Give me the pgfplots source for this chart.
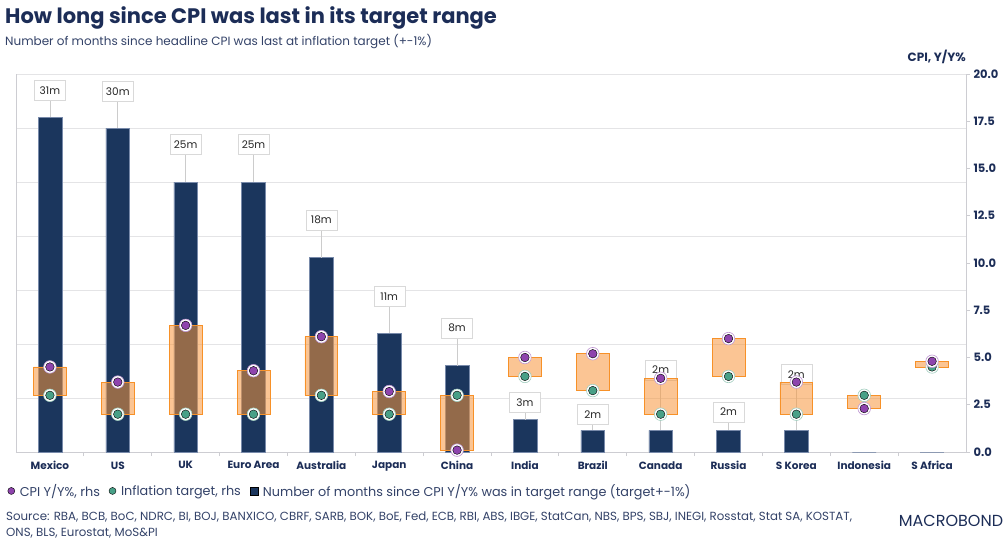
\documentclass[border=0pt]{standalone}
\usepackage{fontspec}
\setmainfont{Poppins}
\usepackage{pgfplots}
\pgfplotsset{compat=1.18}
\usepackage{pgfplotstable}

\definecolor{navy}{RGB}{27,54,93}
\definecolor{baredge}{RGB}{120,138,170}
\definecolor{txt}{RGB}{28,45,87}
\definecolor{gridc}{RGB}{228,228,230}
\definecolor{axc}{RGB}{205,205,210}
\definecolor{orng}{RGB}{247,145,40}
\definecolor{orfill}{RGB}{247,150,60}
\definecolor{purp}{RGB}{142,68,173}
\definecolor{purpl}{RGB}{190,150,210}
\definecolor{grn}{RGB}{72,160,135}
\definecolor{grnl}{RGB}{160,205,190}

\pgfplotstableread{
x months
0 31
1 30
2 25
3 25
4 18
5 11
6 8
7 3
8 2
9 2
10 2
11 2
12 0
13 0
}\months

\pgfplotstableread{
x laby months
0 33.5 31
1 33.4 30
2 28.5 25
3 28.5 25
4 21.5 18
5 14.4 11
6 11.5 8
7 4.6 3
8 3.5 2
9 7.6 2
10 3.7 2
11 7.2 2
}\labels

\pgfplotstableread{
x cpi target
0 4.5 3.0
1 3.7 2.0
2 6.7 2.0
3 4.3 2.0
4 6.1 3.0
5 3.2 2.0
6 0.1 3.0
7 5.0 4.0
8 5.2 3.25
9 3.9 2.0
10 6.0 4.0
11 3.7 2.0
12 2.3 3.0
13 4.8 4.5
}\cpi

\begin{document}
\begin{tikzpicture}
\path[use as bounding box] (0pt,0pt) rectangle (1008pt,542pt);

\node[anchor=base west, inner sep=0, text=txt, font=\fontsize{21}{25}\selectfont\bfseries] at (5pt,518pt) {How long since CPI was last in its target range};
\node[anchor=base west, inner sep=0, text=txt!90, font=\fontsize{12}{14}\selectfont] at (5pt,496pt) {Number of months since headline CPI was last at inflation target (+-1\%)};

% months axis (background, grid, x labels)
\begin{axis}[at={(16pt,90pt)}, anchor=south west, scale only axis,
  width=950pt, height=378pt,
  xmin=-0.5, xmax=13.5, ymin=0, ymax=35,
  xtick={0,...,13},
  xticklabels={Mexico,US,UK,Euro Area,Australia,Japan,China,India,Brazil,Canada,Russia,S Korea,Indonesia,S Africa},
  minor xtick={0.5,1.5,...,12.5},
  ytick={0,5,...,35}, yticklabels={},
  ymajorgrids, major grid style={gridc, line width=0.8pt},
  axis x line*=bottom, axis y line*=left,
  axis line style={axc, line width=0.8pt},
  tick align=outside, major tick length=0pt, minor tick length=4pt,
  tick style={axc, line width=0.8pt},
  /pgf/number format/assume math mode=true,
  xticklabel style={font=\fontsize{10.5}{12}\selectfont\bfseries, text=txt, yshift=-6pt},
  clip=false]
\addplot[ybar, bar width=0.35, fill=navy, draw=baredge, line width=0.5pt] table[x=x,y=months]\months;
\addplot[only marks, mark=none, point meta=\thisrow{months},
  nodes near coords={\pgfmathprintnumber{\pgfplotspointmeta}m},
  nodes near coords style={anchor=center, draw=gray!30, fill=white, text=black!85,
    font=\fontsize{10.5}{12}\selectfont, minimum width=31pt, minimum height=20pt, inner sep=2pt},
  error bars/.cd, y dir=minus, y explicit, error mark=none,
  error bar style={gray!40, line width=0.8pt}]
  table[x=x, y=laby, y error minus expr=\thisrow{laby}-\thisrow{months}]\labels;
\end{axis}

% target range boxes
\begin{axis}[at={(16pt,90pt)}, anchor=south west, scale only axis,
  width=950pt, height=378pt,
  xmin=-0.5, xmax=13.5, ymin=0, ymax=20, hide axis,
  ybar stacked, bar width=0.485]
\addplot[draw=none, fill=none] table[x=x, y expr={min(\thisrow{cpi},\thisrow{target})}]\cpi;
\addplot[fill=orfill, fill opacity=0.55, draw=orng, line width=0.8pt] table[x=x, y expr={abs(\thisrow{cpi}-\thisrow{target})}]\cpi;
\end{axis}

% CPI axis (right)
\begin{axis}[at={(16pt,90pt)}, anchor=south west, scale only axis,
  width=950pt, height=378pt,
  xmin=-0.5, xmax=13.5, ymin=0, ymax=20,
  axis x line=none, axis y line*=right,
  ytick={0,2.5,...,20},
  /pgf/number format/assume math mode=true,
  yticklabel style={font=\fontsize{11.5}{13}\selectfont\bfseries, text=txt,
    /pgf/number format/.cd, fixed, fixed zerofill, precision=1},
  tick align=outside, major tick length=4pt,
  tick style={axc, line width=0.8pt},
  axis line style={axc, line width=0.8pt},
  clip=false,
  legend style={at={(axis description cs:-0.012,-0.103)}, anchor=west, draw=none, fill=none,
    legend columns=3, font=\fontsize{12.8}{14}\selectfont, text=txt!90,
    /tikz/every odd column/.append style={column sep=3pt},
    /tikz/every even column/.append style={column sep=7pt}},
  legend cell align=left]
\addplot[forget plot, only marks, mark=*, mark size=6.3pt, mark options={fill=white, draw=grnl, line width=0.6pt}] table[x=x,y=target]\cpi;
\addplot[forget plot, only marks, mark=*, mark size=4.3pt, mark options={fill=grn, draw=none}] table[x=x,y=target]\cpi;
\addplot[forget plot, only marks, mark=*, mark size=6.3pt, mark options={fill=white, draw=purpl, line width=0.6pt}] table[x=x,y=cpi]\cpi;
\addplot[forget plot, only marks, mark=*, mark size=4.3pt, mark options={fill=purp, draw=none}] table[x=x,y=cpi]\cpi;
\addlegendimage{only marks, mark=*, mark size=3.5pt, mark options={fill=purp, draw=none}}
\addlegendentry{CPI Y/Y\%, rhs}
\addlegendimage{only marks, mark=*, mark size=3.5pt, mark options={fill=grn, draw=none}}
\addlegendentry{Inflation target, rhs}
\addlegendimage{only marks, mark=square*, mark size=4pt, mark options={fill=navy, draw=none}}
\addlegendentry{Number of months since CPI Y/Y\% was in target range (target+-1\%)}
\end{axis}

\node[anchor=east, inner sep=0, text=txt, font=\fontsize{12}{14}\selectfont\bfseries] at (966pt,485pt) {CPI, Y/Y\%};

\node[anchor=north west, inner sep=0, align=left, text=txt!90, font=\fontsize{11.8}{16}\selectfont] at (6pt,30pt)
  {Source: RBA, BCB, BoC, NDRC, BI, BOJ, BANXICO, CBRF, SARB, BOK, BoE, Fed, ECB, RBI, ABS, IBGE, StatCan, NBS, BPS, SBJ, INEGI, Rosstat, Stat SA, KOSTAT,\\ONS, BLS, Eurostat, MoS\&PI};

\node[anchor=center, inner sep=0, text=txt, font=\fontsize{16}{18}\selectfont] at (951pt,21pt) {MACROBOND};
\end{tikzpicture}
\end{document}
